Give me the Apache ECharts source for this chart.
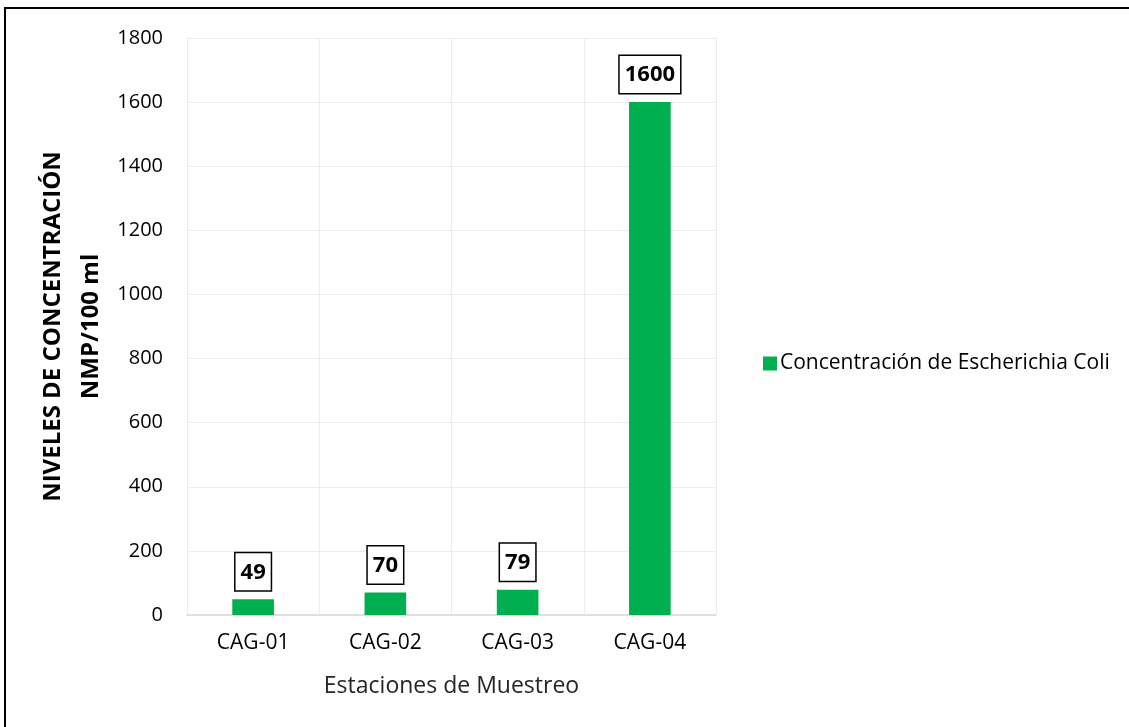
<!DOCTYPE html>
<html><head><meta charset="utf-8">
<script src="https://cdn.jsdelivr.net/npm/echarts@6/dist/echarts.min.js"></script>
<style>
html,body{margin:0;padding:0;background:#fff;}
#frame{position:absolute;left:4px;top:7px;width:1140px;height:740px;border:2px solid #000;box-sizing:border-box;}
#c{position:absolute;left:0;top:0;width:1129px;height:727px;}
</style></head>
<body><div id="frame"></div><div id="c"></div>
<script>
const categories = ['CAG-01','CAG-02','CAG-03','CAG-04'];
const values = [49, 70, 79, 1600];
const seriesName = 'Concentración de Escherichia Coli';
const yTitle = 'NIVELES DE CONCENTRACIÓN\nNMP/100 ml';
const xTitle = 'Estaciones de Muestreo';
const FONT = 'Open Sans';
const chart = echarts.init(document.getElementById('c'), null, {renderer:'canvas'});
chart.setOption({
  backgroundColor: 'transparent',
  animation: false,
  textStyle: {fontFamily: FONT},
  grid: {left: 187, right: 413, top: 38, bottom: 112, containLabel: false},
  legend: {
    data: [seriesName], left: 758, top: 'middle', orient: 'vertical',
    itemWidth: 14, itemHeight: 14, itemGap: 6,
    textStyle: {fontFamily: FONT, fontSize: 21, color: '#000', padding: [0,0,0,-2]},
    icon: 'rect'
  },
  xAxis: {
    type: 'category', data: categories,
    name: xTitle, nameLocation: 'middle', nameGap: 60,
    nameTextStyle: {fontFamily: FONT, fontSize: 23, color: '#262626'},
    axisLine: {show: true, lineStyle: {color: '#d9d9d9', width: 1.5}},
    axisTick: {show: false},
    axisLabel: {fontFamily: FONT, fontSize: 21, color: '#000', margin: 18},
    splitLine: {show: true, lineStyle: {color: '#ececec', width: 1}}
  },
  yAxis: {
    type: 'value', min: 0, max: 1800, interval: 200,
    name: yTitle, nameLocation: 'middle', nameGap: 77, nameRotate: 90,
    nameTextStyle: {fontFamily: FONT, fontSize: 24, fontWeight: 'bold', color: '#000', lineHeight: 38},
    axisLine: {show: false}, axisTick: {show: false},
    axisLabel: {fontFamily: FONT, fontSize: 20, color: '#000', margin: 24, formatter: v => String(v)},
    splitLine: {show: true, lineStyle: {color: '#ececec', width: 1}}
  },
  series: [{
    name: seriesName, type: 'bar', data: values,
    barWidth: '31.5%',
    itemStyle: {color: '#00b050'},
    label: {
      show: true, position: 'top', distance: 9,
      fontFamily: FONT, fontSize: 22, fontWeight: 'bold', color: '#000',
      backgroundColor: '#fff', borderColor: '#000', borderWidth: 1.5,
      padding: [6, 5, 5, 5], lineHeight: 26
    }
  }]
});
</script></body></html>
